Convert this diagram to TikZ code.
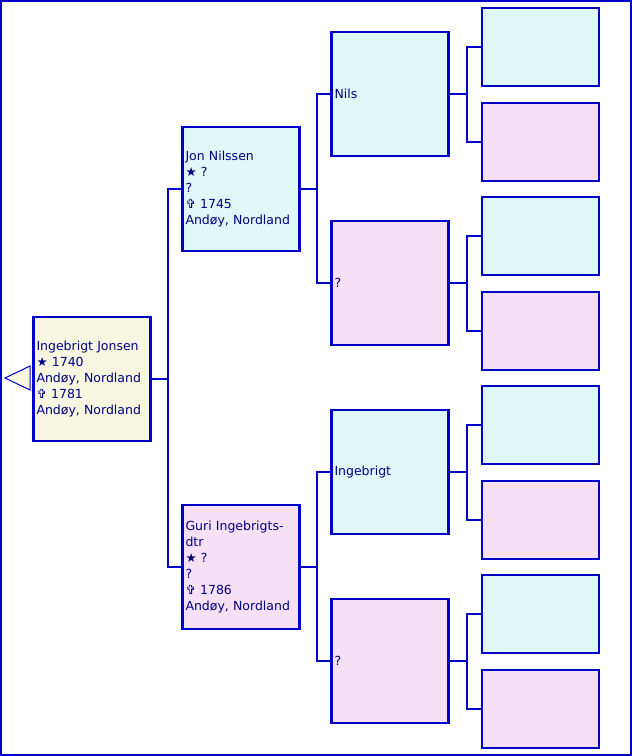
\documentclass[tikz,border=0pt]{standalone}
\usepackage{fontspec}
\setmainfont{DejaVu Sans}
\definecolor{linkblue}{RGB}{0,0,200}
\definecolor{textblue}{RGB}{0,0,130}
\definecolor{malefill}{RGB}{224,247,248}
\definecolor{femalefill}{RGB}{247,224,246}
\definecolor{rootfill}{RGB}{247,246,224}
\newcommand{\born}{★}
\newcommand{\died}{✞}

\begin{document}
\begin{tikzpicture}[x=1pt, y=-1pt,
  every node/.style={font=\fontsize{12.5}{16}\selectfont, text=textblue},
  person/.style={draw=linkblue, line width=2.2pt, rectangle, inner sep=3pt, align=left},
  big/.style={person, text width=111pt, minimum height=124pt},
  small/.style={person, text width=111pt, minimum height=78pt},
  male/.style={fill=malefill},
  female/.style={fill=femalefill},
  link/.style={draw=linkblue, line width=2.2pt}]
  \useasboundingbox (0,0) rectangle (632,756);
  % ramme
  \draw[linkblue, line width=2.2pt] (1,1) rectangle (631,755);

  % proband
  \node[big, fill=rootfill] (root) at (92,379)
    {Ingebrigt Jonsen\\ \born\ 1740\\ Andøy, Nordland\\ \died\ 1781\\ Andøy, Nordland};
  \draw[linkblue, fill=rootfill, line width=1pt] (5,378) -- (30,366) -- (30,390) -- cycle;

  % foreldre
  \node[big, male] (jon) at (241,189)
    {Jon Nilssen\\ \born\ ?\\ ?\\ \died\ 1745\\ Andøy, Nordland};
  \node[big, female] (guri) at (241,567)
    {Guri Ingebrigts-\\dtr\\ \born\ ?\\ ?\\ \died\ 1786\\ Andøy, Nordland};

  % besteforeldre
  \node[big, male] (nils) at (390,94) {Nils};
  \node[big, female] (ff) at (390,283) {?};
  \node[big, male] (ingebrigt) at (390,472) {Ingebrigt};
  \node[big, female] (mf) at (390,661) {?};

  % oldeforeldre
  \node[small, male] (a1) at (540.5,47) {};
  \node[small, female] (a2) at (540.5,142) {};
  \node[small, male] (a3) at (540.5,236) {};
  \node[small, female] (a4) at (540.5,331) {};
  \node[small, male] (a5) at (540.5,425) {};
  \node[small, female] (a6) at (540.5,520) {};
  \node[small, male] (a7) at (540.5,614) {};
  \node[small, female] (a8) at (540.5,709) {};

  % linjer
  \draw[link] (root.east) -- ++(16,0) coordinate (r1);
  \draw[link] (r1) |- (jon.west);
  \draw[link] (r1) |- (guri.west);

  \draw[link] (jon.east) -- ++(16,0) coordinate (j1);
  \draw[link] (j1) |- (nils.west);
  \draw[link] (j1) |- (ff.west);
  \draw[link] (guri.east) -- ++(16,0) coordinate (g1);
  \draw[link] (g1) |- (ingebrigt.west);
  \draw[link] (g1) |- (mf.west);

  \draw[link] (nils.east) -- ++(17,0) coordinate (n1);
  \draw[link] (n1) |- (a1.west);
  \draw[link] (n1) |- (a2.west);
  \draw[link] (ff.east) -- ++(17,0) coordinate (f1);
  \draw[link] (f1) |- (a3.west);
  \draw[link] (f1) |- (a4.west);
  \draw[link] (ingebrigt.east) -- ++(17,0) coordinate (i1);
  \draw[link] (i1) |- (a5.west);
  \draw[link] (i1) |- (a6.west);
  \draw[link] (mf.east) -- ++(17,0) coordinate (m1);
  \draw[link] (m1) |- (a7.west);
  \draw[link] (m1) |- (a8.west);
\end{tikzpicture}
\end{document}
